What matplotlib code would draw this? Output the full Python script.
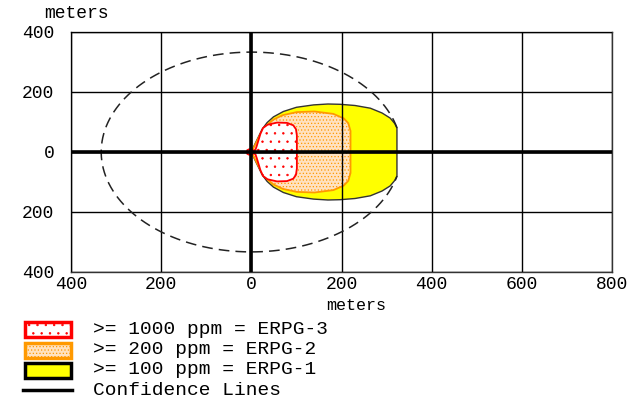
import matplotlib.pyplot as plt
from matplotlib.patches import Polygon, Rectangle
from matplotlib.lines import Line2D
import numpy as np

plt.rcParams['font.family'] = ['Liberation Mono', 'DejaVu Sans Mono']
plt.rcParams['hatch.linewidth'] = 0.5

# axis ticks (labels show distance, no sign)
x_ticks = [-400, -200, 0, 200, 400, 600, 800]
x_tick_labels = ['400', '200', '0', '200', '400', '600', '800']
y_ticks = [-400, -200, 0, 200, 400]
y_tick_labels = ['400', '200', '0', '200', '400']

# threat zones, upper half outline in meters (zones are symmetric about y=0)
erpg1_x = [0, 5, 13, 24, 35, 49, 71, 100, 138, 170, 197, 230, 264, 290, 308, 318, 323, 323]
erpg1_y = [0, 17, 42, 76, 98, 117, 135, 149, 157, 160, 159, 155, 146, 130, 113, 95, 80, 0]

erpg2_x = [0, 5, 13, 24, 35, 49, 70, 101, 140, 182, 205, 215, 220, 220]
erpg2_y = [0, 14, 38, 70, 90, 108, 123, 133, 135, 127, 112, 96, 70, 0]

erpg3_x = [-10, -9, -5, 0, 5, 9, 12, 16, 20, 26, 36, 57, 79, 93, 99, 101, 101]
erpg3_y = [0, 6, 9, 8, 5, 7, 20, 40, 60, 80, 91, 98, 97, 89, 76, 55, 0]

# confidence lines: arc around the source, ends at the ERPG-1 corner
conf_radius = 333
conf_end_x, conf_end_y = 323, 80

legend_labels = ['>= 1000 ppm = ERPG-3', '>= 200 ppm = ERPG-2',
                 '>= 100 ppm = ERPG-1', 'Confidence Lines']

W, H = 634, 398
fig = plt.figure(figsize=(W / 100, H / 100), dpi=100)
ax = fig.add_axes([71 / W, 1 - 272 / H, 541 / W, 240 / H])


def mirror(x, y):
    x = np.asarray(x, float)
    y = np.asarray(y, float)
    return np.column_stack([np.r_[x, x[::-1]], np.r_[y, -y[::-1]]])


ax.add_patch(Polygon(mirror(erpg1_x, erpg1_y), closed=True, facecolor='#ffff00',
                     edgecolor='#333333', lw=1, zorder=1))
ax.add_patch(Polygon(mirror(erpg2_x, erpg2_y), closed=True, facecolor='#ffe2c0',
                     edgecolor='#ff9900', lw=1.3, hatch='.....', zorder=1.2))
ax.add_patch(Polygon(mirror(erpg3_x, erpg3_y), closed=True, facecolor='white',
                     edgecolor='#ff0000', lw=1.3, hatch='..', zorder=1.4))

a0 = np.arctan2(conf_end_y, conf_end_x)
t = np.linspace(a0, 2 * np.pi - a0, 300)
ax.plot(conf_radius * np.cos(t), conf_radius * np.sin(t), color='#222222',
        lw=1.1, dashes=(7, 4), zorder=3)

ax.axhline(0, color='black', lw=2.6, zorder=4)
ax.axvline(0, color='black', lw=2.6, zorder=4)

ax.set_xlim(-400, 800)
ax.set_ylim(-400, 400)
ax.set_xticks(x_ticks)
ax.set_xticklabels(x_tick_labels)
ax.set_yticks(y_ticks)
ax.set_yticklabels(y_tick_labels)
ax.tick_params(length=0, labelsize=13)
ax.tick_params(axis='x', pad=3)
ax.tick_params(axis='y', pad=12)
ax.grid(True, color='black', lw=1)
ax.set_axisbelow(False)
for s in ax.spines.values():
    s.set_color('#333333')
    s.set_linewidth(1)

fig.text(76 / W, 1 - 14 / H, 'meters', ha='center', va='center', fontsize=13)
fig.text(356 / W, 1 - 305 / H, 'meters', ha='center', va='center', fontsize=12)

# legend
box_styles = [
    dict(facecolor='white', edgecolor='#ff0000', hatch='..'),
    dict(facecolor='#ffe2c0', edgecolor='#ff9900', hatch='.....'),
    dict(facecolor='#ffff00', edgecolor='black'),
]
box_tops = [322, 343, 363]
for top, st in zip(box_tops, box_styles):
    fig.add_artist(Rectangle((25 / W, 1 - (top + 15) / H), 46 / W, 15 / H,
                             transform=fig.transFigure, lw=2.5, **st))
fig.add_artist(Line2D([23 / W, 72 / W], [1 - 390 / H, 1 - 390 / H],
                      transform=fig.transFigure, color='black', lw=2.5))
for i, lab in enumerate(legend_labels):
    fig.text(93 / W, 1 - (329 + 20.5 * i) / H, lab, ha='left', va='center',
             fontsize=14)

fig.savefig('out.png', dpi=100)
